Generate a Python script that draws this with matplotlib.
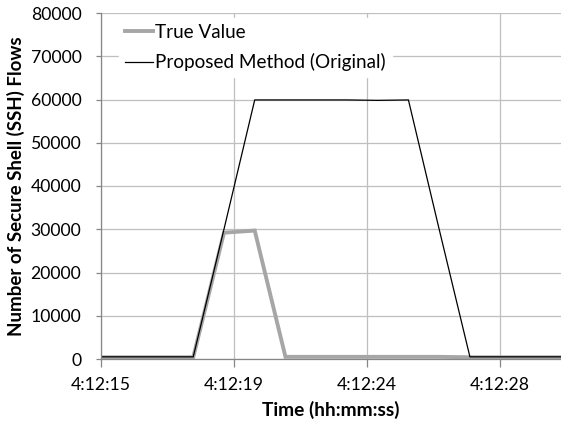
import matplotlib
matplotlib.use("Agg")
import matplotlib.pyplot as plt

# time offsets (seconds after 4:12:15)
times = [0.0, 1.04, 2.08, 3.12, 4.16, 5.2, 6.24, 7.28, 8.32, 9.36, 10.4, 11.44, 12.48, 13.52, 14.56, 15.6]
true_value = [400, 400, 400, 400, 29200, 29700, 500, 500, 500, 500, 500, 500, 400, 400, 400, 400]
proposed = [500, 500, 500, 500, 30000, 59900, 59900, 59900, 59900, 59800, 59900, 30000, 500, 500, 500, 500]
xtick_pos = [0, 4.5, 9, 13.5]
xtick_labels = ["4:12:15", "4:12:19", "4:12:24", "4:12:28"]
yticks = [0, 10000, 20000, 30000, 40000, 50000, 60000, 70000, 80000]

plt.rcParams['font.family'] = ['Lato', 'DejaVu Sans']

fig = plt.figure(figsize=(5.61, 4.29), dpi=100)
ax = fig.add_axes([101/561, 1-359/429, 1-101/561, (359-13)/429])

ax.plot(times, true_value, color='#A6A6A6', lw=2.8, label='True Value', solid_joinstyle='miter')
ax.plot(times, proposed, color='black', lw=0.9, label='Proposed Method (Original)')

ax.set_xlim(0, (561-101)/29.56)
ax.set_ylim(0, 80000)
ax.set_xticks(xtick_pos)
ax.set_xticklabels(xtick_labels)
ax.set_yticks(yticks)
ax.grid(True, color='#BFBFBF', lw=0.9)
ax.set_axisbelow(True)
for s in ['top', 'right']:
    ax.spines[s].set_visible(False)
for s in ['left', 'bottom']:
    ax.spines[s].set_color('#868686')
    ax.spines[s].set_linewidth(0.9)
ax.tick_params(axis='both', colors='#868686', width=0.9, labelsize=12.7, labelcolor='black')
ax.tick_params(axis='x', length=5.5, pad=7.5)
ax.tick_params(axis='y', length=3.6, pad=10.5)

ax.set_xlabel('Time (hh:mm:ss)', fontsize=13.8, fontweight='bold', labelpad=6)
ax.set_ylabel('Number of Secure Shell (SSH) Flows', fontsize=13.5, fontweight='bold', labelpad=4)

leg = ax.legend(loc='upper left', bbox_to_anchor=(0.04, 0.985), frameon=True, fontsize=13.6,
                handlelength=1.5, handletextpad=0.1, borderaxespad=0, labelspacing=0.66,
                fancybox=False, edgecolor='white', framealpha=1, borderpad=0.3)

fig.savefig('out.png', dpi=100)
